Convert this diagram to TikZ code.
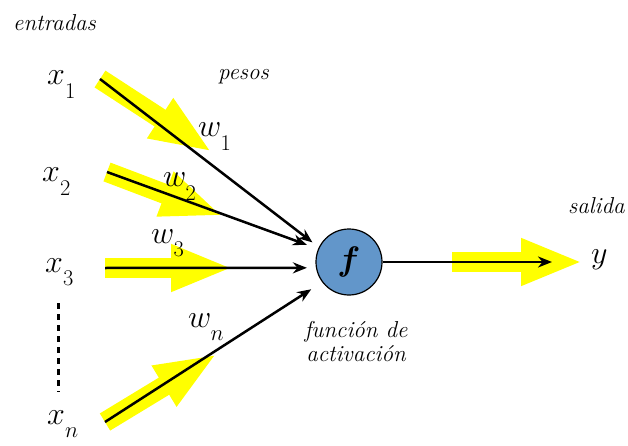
\RequirePackage{fix-cm}
\documentclass[tikz,border=0pt]{standalone}
\usepackage{bm}
\usetikzlibrary{arrows.meta}
\definecolor{neuronblue}{RGB}{98,150,202}
\definecolor{fatyellow}{RGB}{255,255,0}
\newcommand\lowsub[2]{#1_{\lower9pt\hbox{$\scriptstyle #2$}}}
\begin{document}
\begin{tikzpicture}[x=1pt,y=-1pt,
  fat/.style={draw=fatyellow, line width=20pt, -{Triangle[length=62pt,width=43pt]}},
  conn/.style={draw=black, line width=2.5pt, -{Stealth[length=14pt,width=11pt]}},
  lbl/.style={inner sep=0pt, anchor=base west, font=\fontsize{23}{24}\selectfont\itshape},
  sym/.style={inner sep=0pt, anchor=base west, font=\fontsize{32}{36}\selectfont}]
\useasboundingbox (0,0) rectangle (628,446);
% start points of the inputs
\coordinate (s1) at (100,79);
\coordinate (s2) at (107,172);
\coordinate (s3) at (105,268);
\coordinate (sn) at (105,422);
% tips of the yellow arrows
\coordinate (t1) at (212,152);
\coordinate (t2) at (223,216);
\coordinate (t3) at (233,268);
\coordinate (tn) at (217,354);
\coordinate (ys) at (452,262);
\coordinate (yt) at (583,262);
\coordinate (oend) at (552,262);
\coordinate (d1) at (58,303);
\coordinate (d2) at (58,392);
% yellow arrows
\draw[fat] (s1) -- (t1);
\draw[fat] (s2) -- (t2);
\draw[fat] (s3) -- (t3);
\draw[fat] (sn) -- (tn);
\draw[fat] (ys) -- (yt);
% neuron
\node[circle, draw, line width=1.2pt, fill=neuronblue, minimum size=66pt, inner sep=0pt,
      font=\fontsize{34}{38}\selectfont] (fn) at (349,262) {$\bm{f}$};
% connectors
\draw[conn, shorten >=8pt] (s1) -- (fn.154);
\draw[conn, shorten >=12pt] (s2) -- (fn.157);
\draw[conn, shorten >=9pt] (s3) -- (fn.190);
\draw[conn, shorten >=13pt] (sn) -- (fn.217);
\draw[conn] (fn) -- (oend);
\draw[line width=3pt, dash pattern=on 6pt off 5pt] (d1) -- (d2);
% labels
\node[sym] (x1) at (47,85) {$\lowsub{x}{1}$};
\node[sym] (x2) at (42,182) {$\lowsub{x}{2}$};
\node[sym] (x3) at (45,272) {$\lowsub{x}{3}$};
\node[sym] (xn) at (47,424) {$\lowsub{x}{n}$};
\node[sym] (w1) at (198,137) {$\lowsub{w}{1}$};
\node[sym] (w2) at (163,187) {$\lowsub{w}{2}$};
\node[sym] (w3) at (151,243) {$\lowsub{w}{3}$};
\node[sym] (wn) at (188,327) {$\lowsub{w}{n}$};
\node[sym] (y) at (591,263) {$y$};
\node[lbl] (entradas) at (13,31) {entradas};
\node[lbl] (pesos) at (218,80) {pesos};
\node[lbl] (salida) at (568,213) {salida};
\node[lbl, anchor=base, align=center] (act) at (356,361) {función de\\activación};
\end{tikzpicture}
\end{document}
